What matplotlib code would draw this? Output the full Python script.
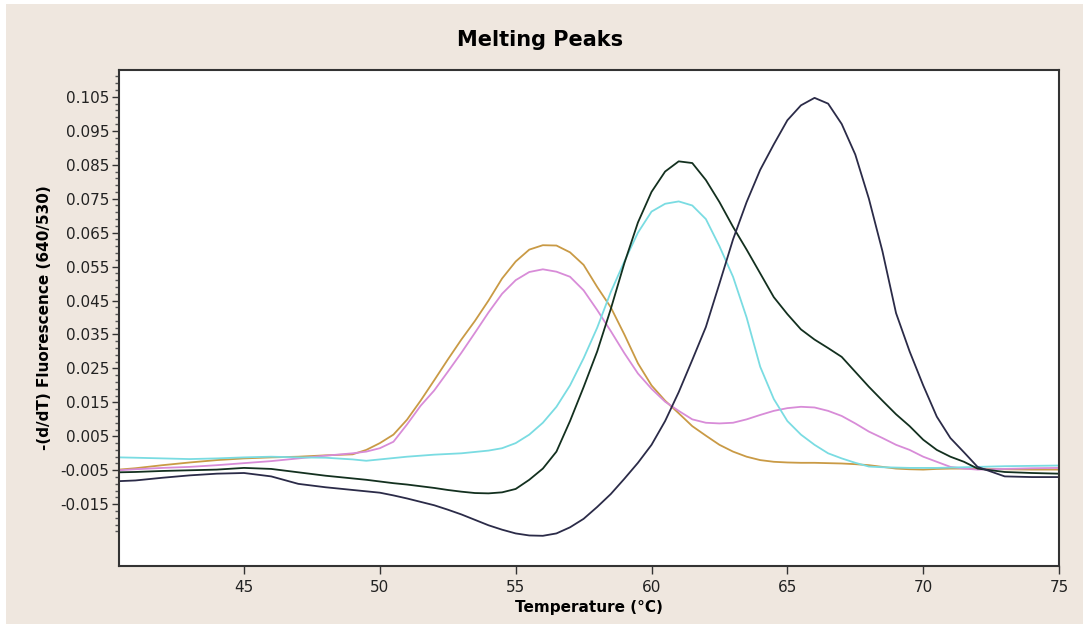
import numpy as np
import matplotlib
matplotlib.use("Agg")
import matplotlib.pyplot as plt
from matplotlib.patches import Rectangle
from matplotlib.ticker import FixedLocator, FormatStrFormatter

# ---------------------------------------------------------------------
# Data (temperature in degC, -(d/dT) fluorescence)
# ---------------------------------------------------------------------
temp = [40.4, 41, 42, 43, 44, 45, 46, 47, 48, 49, 49.5, 50, 50.5, 51, 51.5,
        52, 52.5, 53, 53.5, 54, 54.5, 55, 55.5, 56, 56.5, 57, 57.5, 58, 58.5,
        59, 59.5, 60, 60.5, 61, 61.5, 62, 62.5, 63, 63.5, 64, 64.5, 65, 65.5,
        66, 66.5, 67, 67.5, 68, 68.5, 69, 69.5, 70, 70.5, 71, 71.5, 72, 73,
        74, 75]

orange = [-0.0048, -0.0044, -0.0035, -0.0027, -0.0020, -0.0015, -0.0012,
          -0.0010, -0.0006, -0.0003, 0.0010, 0.0030, 0.0055, 0.0099, 0.0155,
          0.0215, 0.0276, 0.0335, 0.0390, 0.0450, 0.0515, 0.0565, 0.0600,
          0.0613, 0.0612, 0.0592, 0.0555, 0.0490, 0.0430, 0.0350, 0.0265,
          0.0200, 0.0155, 0.0118, 0.0080, 0.0052, 0.0025, 0.0005, -0.0010,
          -0.0020, -0.0025, -0.0027, -0.0028, -0.0028, -0.0029, -0.0030,
          -0.0032, -0.0035, -0.0040, -0.0045, -0.0047, -0.0048, -0.0046,
          -0.0045, -0.0045, -0.0045, -0.0047, -0.0048, -0.0048]

pink = [-0.0050, -0.0047, -0.0043, -0.0040, -0.0035, -0.0029, -0.0023,
        -0.0015, -0.0007, 0.0000, 0.0005, 0.0015, 0.0034, 0.0085, 0.0140,
        0.0185, 0.0240, 0.0296, 0.0355, 0.0415, 0.0470, 0.0510, 0.0534,
        0.0542, 0.0535, 0.0520, 0.0480, 0.0422, 0.0360, 0.0295, 0.0235,
        0.0190, 0.0152, 0.0125, 0.0100, 0.0090, 0.0088, 0.0090, 0.0100,
        0.0113, 0.0125, 0.0133, 0.0137, 0.0135, 0.0125, 0.0110, 0.0088,
        0.0064, 0.0045, 0.0025, 0.0010, -0.0010, -0.0025, -0.0040, -0.0045,
        -0.0048, -0.0046, -0.0044, -0.0043]

cyan = [-0.0012, -0.0013, -0.0015, -0.0017, -0.0015, -0.0012, -0.0010,
        -0.0012, -0.0013, -0.0018, -0.0022, -0.0018, -0.0014, -0.0010,
        -0.0007, -0.0004, -0.0002, 0.0000, 0.0004, 0.0008, 0.0015, 0.0030,
        0.0055, 0.0090, 0.0137, 0.0200, 0.0280, 0.0370, 0.0475, 0.0565,
        0.0650, 0.0712, 0.0735, 0.0742, 0.0730, 0.0690, 0.0610, 0.0520,
        0.0400, 0.0255, 0.0160, 0.0095, 0.0055, 0.0025, 0.0000, -0.0015,
        -0.0028, -0.0039, -0.0041, -0.0042, -0.0043, -0.0043, -0.0043,
        -0.0042, -0.0041, -0.0040, -0.0038, -0.0037, -0.0036]

green = [-0.0056, -0.0055, -0.0052, -0.0050, -0.0048, -0.0043, -0.0046,
         -0.0056, -0.0066, -0.0074, -0.0078, -0.0083, -0.0088, -0.0092,
         -0.0097, -0.0102, -0.0108, -0.0113, -0.0117, -0.0118, -0.0115,
         -0.0105, -0.0078, -0.0045, 0.0005, 0.0095, 0.0195, 0.0300, 0.0425,
         0.0560, 0.0680, 0.0770, 0.0830, 0.0860, 0.0855, 0.0805, 0.0740,
         0.0667, 0.0600, 0.0530, 0.0460, 0.0410, 0.0365, 0.0335, 0.0310,
         0.0284, 0.0240, 0.0196, 0.0155, 0.0115, 0.0080, 0.0040, 0.0010,
         -0.0010, -0.0025, -0.0045, -0.0055, -0.0058, -0.0060]

navy = [-0.0082, -0.0080, -0.0072, -0.0065, -0.0060, -0.0058, -0.0068,
        -0.0090, -0.0100, -0.0108, -0.0112, -0.0116, -0.0124, -0.0133,
        -0.0143, -0.0153, -0.0166, -0.0180, -0.0196, -0.0212, -0.0225,
        -0.0236, -0.0242, -0.0243, -0.0236, -0.0218, -0.0193, -0.0158,
        -0.0120, -0.0075, -0.0028, 0.0025, 0.0095, 0.0180, 0.0275, 0.0372,
        0.0500, 0.0630, 0.0740, 0.0835, 0.0910, 0.0981, 0.1025, 0.1047,
        0.1030, 0.0970, 0.0880, 0.0750, 0.0595, 0.0413, 0.0300, 0.0200,
        0.0108, 0.0045, 0.0003, -0.0040, -0.0068, -0.0070, -0.0070]

series = [
    (orange, '#C99A45'),
    (pink, '#D88CD8'),
    (cyan, '#7ADCE2'),
    (green, '#13301F'),
    (navy, '#2B2B48'),
]

y_major = np.round(np.arange(-0.015, 0.1051, 0.01), 3)
y_minor = np.round(np.arange(-0.023, 0.1111, 0.002), 3)
x_major = [45, 50, 55, 60, 65, 70, 75]

# ---------------------------------------------------------------------
# Figure
# ---------------------------------------------------------------------
fig = plt.figure(figsize=(10.89, 6.28), dpi=100, facecolor='white')
fig.patches.append(Rectangle((6 / 1089, 4 / 628), 1 - 12 / 1089, 1 - 8 / 628,
                             transform=fig.transFigure, facecolor='#EFE7DF',
                             edgecolor='none', zorder=-10))

ax = fig.add_axes([0.1093, 0.0987, 0.8632, 0.7898])
ax.set_facecolor('white')

for vals, col in series:
    ax.plot(temp, vals, color=col, linewidth=1.3)

ax.set_xlim(40.4, 75)
ax.set_ylim(-0.0332, 0.1129)

ax.set_xticks(x_major)
ax.yaxis.set_major_locator(FixedLocator(y_major))
ax.yaxis.set_minor_locator(FixedLocator(y_minor))
ax.yaxis.set_major_formatter(FormatStrFormatter('%.3f'))

ax.tick_params(axis='x', direction='out', length=6, width=1, colors='#333333',
               labelsize=11, labelcolor='#222222', pad=4)
ax.tick_params(axis='y', which='major', direction='out', length=5, width=1,
               colors='#333333', labelsize=11, labelcolor='#222222', pad=2)
ax.tick_params(axis='y', which='minor', direction='out', length=3, width=1,
               colors='#555555')

for sp in ax.spines.values():
    sp.set_color('#333333')
    sp.set_linewidth(1.5)

ax.set_xlabel('Temperature (°C)', fontsize=11, fontweight='bold', labelpad=4)
ax.set_ylabel('-(d/dT) Fluorescence (640/530)', fontsize=11,
              fontweight='bold', labelpad=6)

fig.text(0.496, 0.936, 'Melting Peaks', ha='center', va='center',
         fontsize=15, fontweight='bold')

plt.savefig('out.png', dpi=100, facecolor=fig.get_facecolor())
